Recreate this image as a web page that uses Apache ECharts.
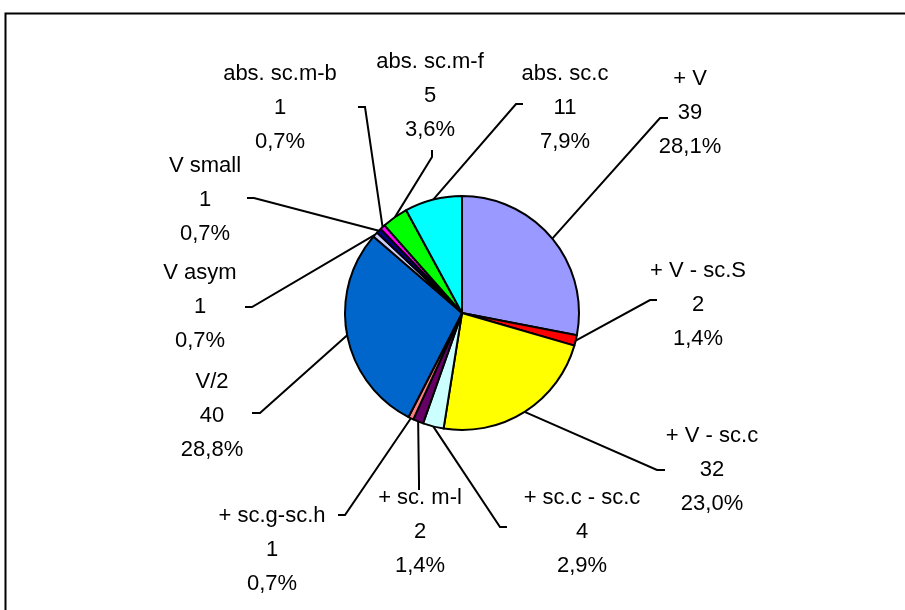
<!DOCTYPE html>
<html>
<head>
<meta charset="utf-8">
<script src="https://cdn.jsdelivr.net/npm/echarts@6/dist/echarts.min.js"></script>
<style>
  html, body { margin: 0; padding: 0; background: #fff; }
  #chart { width: 905px; height: 610px; }
</style>
</head>
<body>
<div id="chart"></div>
<script>
// slices, clockwise from 12 o'clock
const names = [
  "+ V", "+ V - sc.S", "+ V - sc.c", "+ sc.c - sc.c", "+ sc. m-l", "+ sc.g-sc.h",
  "V/2", "V asym", "V small", "abs. sc.m-b", "abs. sc.m-f", "abs. sc.c",
];
const values = [39, 2, 32, 4, 2, 1, 40, 1, 1, 1, 5, 11];

const colors = [
  "#9999ff", "#ff0000", "#ffff00", "#ccffff", "#660066", "#ff8080",
  "#0066cc", "#ccccff", "#000080", "#ff00ff", "#00ff00", "#00ffff",
];

// label text centre (middle line) and leader line bend / end, Excel style
const labelCenters = [
  [690, 113], [698, 305], [712, 470], [582, 532], [420, 532], [272, 550],
  [212, 416], [200, 307], [205, 200], [280, 108], [430, 96], [565, 108],
];
const leaderBends = [
  [660, 118], [650, 300], [657, 470], [500, 527], [419, 482], [345, 515],
  [260, 413], [252, 307], [254, 198], [365, 107], [432, 157], [516, 104],
];
const leaderEnds = [
  [668, 118], [657, 300], [665, 470], [507, 527], [419, 490], [338, 515],
  [252, 413], [245, 307], [247, 198], [358, 107], [432, 150], [523, 104],
];

const total = values.reduce((a, b) => a + b, 0);
const fmtPct = (v) => (v / total * 100).toFixed(1).replace(".", ",") + "%";

const chart = echarts.init(document.getElementById("chart"), null, { renderer: "canvas" });

const option = {
  animation: false,
  graphic: [
    {
      type: "rect",
      shape: { x: 5.5, y: 13.5, width: 1000, height: 1000 },
      style: { fill: "none", stroke: "#000", lineWidth: 2 },
      silent: true,
    },
  ],
  series: [
    {
      type: "pie",
      center: [462, 313],
      radius: 117,
      startAngle: 90,
      clockwise: true,
      data: names.map((n, i) => ({ name: n, value: values[i], itemStyle: { color: colors[i] } })),
      itemStyle: { borderColor: "#000", borderWidth: 2 },
      label: {
        show: true,
        formatter: (p) => p.name + "\n" + p.value + "\n" + fmtPct(p.value),
        fontFamily: "Liberation Sans, Arial, sans-serif",
        fontSize: 22,
        lineHeight: 34,
        color: "#000",
        align: "center",
      },
      labelLine: {
        show: true,
        lineStyle: { color: "#000", width: 2 },
      },
      labelLayout: (params) => {
        const i = params.dataIndex;
        return {
          x: labelCenters[i][0],
          y: labelCenters[i][1],
          align: "center",
          verticalAlign: "middle",
          labelLinePoints: [params.labelLinePoints[0], leaderBends[i], leaderEnds[i]],
        };
      },
      emphasis: { disabled: true },
    },
  ],
};

chart.setOption(option);
</script>
</body>
</html>
